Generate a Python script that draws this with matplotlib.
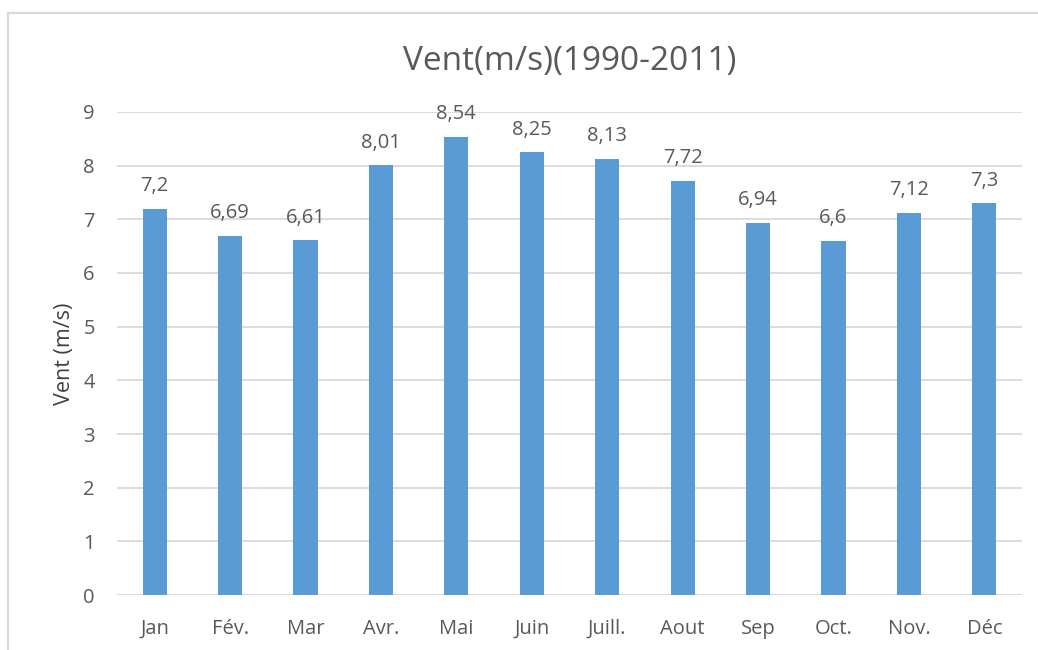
import numpy as np
import matplotlib.pyplot as plt
from matplotlib.lines import Line2D

mois = ['Jan', 'Fév.', 'Mar', 'Avr.', 'Mai', 'Juin', 'Juill.', 'Aout', 'Sep', 'Oct.', 'Nov.', 'Déc']
vent = [7.2, 6.69, 6.61, 8.01, 8.54, 8.25, 8.13, 7.72, 6.94, 6.6, 7.12, 7.3]
yticks = [0, 1, 2, 3, 4, 5, 6, 7, 8, 9]

gris = '#595959'
plt.rcParams['font.family'] = ['Open Sans', 'DejaVu Sans']

fig = plt.figure(figsize=(10.38, 6.5), dpi=100)
ax = fig.add_axes([0.1127, 0.0846, 0.8719, 0.7431])

x = np.arange(len(mois))
bars = ax.bar(x, vent, width=0.32, color='#5b9bd5', zorder=3)

for b, v in zip(bars, vent):
    txt = f'{v:g}'.replace('.', ',')
    ax.annotate(txt, (b.get_x() + b.get_width() / 2, v), xytext=(0, 9),
                textcoords='offset points', ha='center', va='bottom',
                fontsize=14.5, color=gris)

ax.set_xlim(-0.5, len(mois) - 0.5)
ax.set_ylim(0, 9)
ax.set_yticks(yticks)
ax.set_xticks(x)
ax.set_xticklabels(mois)
ax.tick_params(axis='both', length=0, labelsize=14.5, labelcolor=gris)
ax.tick_params(axis='y', pad=16)
ax.tick_params(axis='x', pad=17)
ax.yaxis.grid(True, color='#d9d9d9', linewidth=1.3, zorder=0)
for s in ax.spines.values():
    s.set_visible(False)
ax.axhline(0, color='#d9d9d9', linewidth=1.3, zorder=1)

ax.set_ylabel('Vent (m/s)', fontsize=15.5, color='#404040', labelpad=6)
fig.text(0.549, 0.905, 'Vent(m/s)(1990-2011)', ha='center', va='center',
         fontsize=24, color=gris)

# cadre du graphique
fig.add_artist(Line2D([8 / 1038, 1], [1 - 13 / 650, 1 - 13 / 650],
                      transform=fig.transFigure, color='#d9d9d9', linewidth=1.5))
fig.add_artist(Line2D([8 / 1038, 8 / 1038], [0, 1 - 13 / 650],
                      transform=fig.transFigure, color='#d9d9d9', linewidth=1.5))

fig.savefig('out.png', dpi=100)
